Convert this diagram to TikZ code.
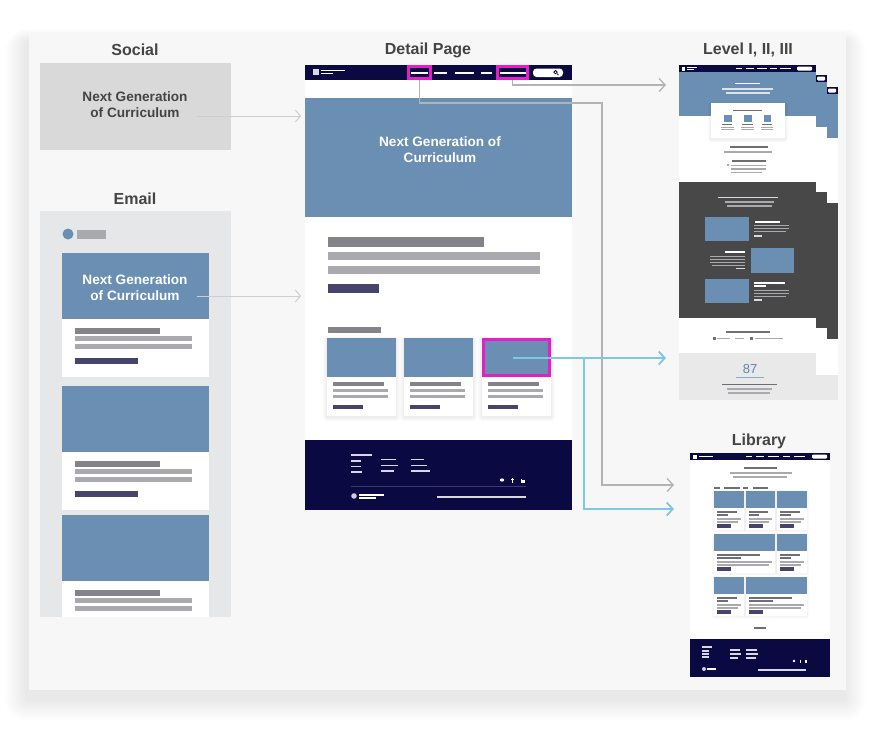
\documentclass[tikz,border=0pt]{standalone}
\usepackage{fontspec}
\setmainfont{Liberation Sans}
\usetikzlibrary{arrows.meta}
\definecolor{panelbg}{HTML}{F7F7F7}
\definecolor{ttl}{HTML}{444444}
\definecolor{socialbg}{HTML}{D9D9D9}
\definecolor{emailbg}{HTML}{E6E7E9}
\definecolor{hero}{HTML}{6A8FB3}
\definecolor{navy}{HTML}{0B0942}
\definecolor{mag}{HTML}{E61EC8}
\definecolor{bardk}{HTML}{838389}
\definecolor{barlt}{HTML}{AAAAAE}
\definecolor{btn}{HTML}{46446C}
\definecolor{darksec}{HTML}{484848}
\definecolor{lgsec}{HTML}{E9E9E9}
\definecolor{cyanln}{HTML}{7EC7E7}
\definecolor{grayln}{HTML}{B3B3B3}
\definecolor{softln}{HTML}{CBCFD2}
\definecolor{numblue}{HTML}{5B86B0}
\definecolor{tinydk}{HTML}{6E6E74}
\definecolor{tinylt}{HTML}{D8D8DE}
\definecolor{footdiv}{HTML}{3B3A70}
\newcommand\rct[5]{\fill[#1] ({#2},{#3}) rectangle ({#4},{#5});}
\newcommand\tinyln[4]{\fill[#1] ({#2},{#4-0.6}) rectangle ({#3},{#4+0.6});}
% soft shadow: x1,y1,x2,y2, layers, opacity per layer, y offset
\newcommand\softshadow[7]{%
  \foreach \k in {1,...,#5}{%
    \fill[black, opacity=#6, rounded corners=\k pt] ({#1-\k},{#2+#7-\k*0.6}) rectangle ({#3+\k},{#4+#7+\k});}}
\tikzset{
  ttlfont/.style={font=\bfseries\fontsize{16}{19}\selectfont, text=ttl, inner sep=0pt, anchor=base},
  herofont/.style={font=\bfseries\fontsize{13.6}{16}\selectfont, align=center, inner sep=0pt},
  softconn/.style={draw=softln, line width=1pt, -{Straight Barb[length=5pt,width=12pt]}},
  navconn/.style={draw=grayln, line width=1.3pt, -{Straight Barb[length=6pt,width=13pt]}},
  blueconn/.style={draw=cyanln, line width=1.8pt, -{Straight Barb[length=6pt,width=13pt]}},
  hibox/.style={draw=mag, line width=2.6pt, inner sep=0pt},
}
\newcommand\dcard[1]{%
  \softshadow{327+#1}{338}{396+#1}{416}{4}{0.015}{1}
  \rct{white}{327+#1}{338}{396+#1}{416}
  \rct{hero}{327+#1}{338}{396+#1}{377}
  \rct{bardk}{333+#1}{382}{384+#1}{385.5}
  \rct{barlt}{333+#1}{388.5}{388+#1}{391.5}
  \rct{barlt}{333+#1}{394.5}{388+#1}{397.5}
  \rct{btn}{333+#1}{405}{363+#1}{408.5}}
\newcommand\ecard[2]{%
  \rct{hero}{62}{#1}{209}{#2}
  \rct{white}{62}{#2}{209}{#2+58}
  \rct{bardk}{75}{#2+9}{160}{#2+14.5}
  \rct{barlt}{75}{#2+17}{192}{#2+21.5}
  \rct{barlt}{75}{#2+25}{192}{#2+29.5}}
\newcommand\libcard[4]{%
  \softshadow{#1}{#2}{#4}{#3+22}{2}{0.02}{0.5}
  \rct{white}{#1}{#2}{#4}{#3+22}
  \rct{hero}{#1}{#2}{#4}{#3}
  \tinyln{tinydk}{#1+3}{#1+(#4-#1)*0.75}{#3+4}
  \tinyln{tinydk}{#1+3}{#1+(#4-#1)*0.45}{#3+7}
  \rct{barlt}{#1+3}{#3+10}{#4-3}{#3+11.5}
  \rct{barlt}{#1+3}{#3+13}{#4-6}{#3+14.5}
  \rct{btn}{#1+3}{#3+16}{#1+17}{#3+20}}
\begin{document}
\begin{tikzpicture}[x=1pt,y=-1pt]
\useasboundingbox (0,0) rectangle (876,731);
\fill[white] (0,0) rectangle (876,731);
\softshadow{27}{33}{844}{690}{22}{0.0045}{9}
\rct{panelbg}{29}{33}{846}{690}

% ---------------- titles
\node[ttlfont] (tSocial) at (135,55) {Social};
\node[ttlfont] (tEmail) at (135,204) {Email};
\node[ttlfont] (tDetail) at (428,54) {Detail Page};
\node[ttlfont] (tLevel) at (748,54) {Level I, II, III};
\node[ttlfont] (tLibrary) at (759,445) {Library};

% ---------------- social
\rct{socialbg}{40}{63}{231}{150}
\node[herofont, text=ttl] (socText) at (135,105) {Next Generation\\of Curriculum};

% ---------------- email
\rct{emailbg}{40}{211}{231}{617}
\fill[hero] (68,234) circle (5.5);
\rct{barlt}{77}{230}{106}{238.5}
\ecard{253}{319}
\rct{btn}{75}{358}{138}{364}
\node[herofont, text=white] (emailText) at (135,288) {Next Generation\\of Curriculum};
\ecard{386}{452}
\rct{btn}{75}{490.5}{138}{496.5}
\rct{hero}{62}{515}{209}{581}
\rct{white}{62}{581}{209}{617}
\rct{bardk}{75}{590}{160}{596}
\rct{barlt}{75}{598}{192}{602.5}
\rct{barlt}{75}{606}{192}{610.5}

% ---------------- detail page
\rct{white}{305}{65}{572}{510}
\rct{navy}{305}{65}{572}{80}
\fill[white!85!navy] (313,68.5) rectangle (318.5,75);
\tinyln{white}{320.5}{345}{70.3}
\tinyln{white}{320.5}{333}{73.5}
\tinyln{white}{411}{428}{73}
\tinyln{white}{434}{447}{73}
\tinyln{white}{455}{474}{73}
\tinyln{white}{481}{492}{73}
\tinyln{white}{500}{526}{73}
\fill[white, rounded corners=3.5pt] (533,68.5) rectangle (563,77);
\draw[navy, line width=0.8pt] (555.5,72.2) circle (1.7);
\draw[navy, line width=0.8pt] (556.8,73.5) -- (558.6,75.2);
\node[hibox, minimum width=22.4pt, minimum height=12.4pt] (navA) at (419.5,72.5) {};
\node[hibox, minimum width=30.4pt, minimum height=12.4pt] (navB) at (512.5,72.5) {};
\rct{hero}{305}{98}{572}{217}
\node[herofont, text=white] (heroText) at (440,149.5) {Next Generation of\\Curriculum};
\rct{bardk}{328}{237}{484}{247}
\rct{barlt}{328}{252}{540}{260}
\rct{barlt}{328}{266}{540}{274}
\rct{btn}{328}{284}{379}{293}
\rct{bardk}{328}{327}{381}{332.5}
\dcard{0}
\dcard{77}
\dcard{155}
\node[hibox, minimum width=66.4pt, minimum height=36.4pt] (card3) at (516.5,357.5) {};
% detail footer
\rct{navy}{305}{440}{572}{510}
\tinyln{tinylt}{351}{372}{455}
\tinyln{tinylt}{351}{361}{461}
\tinyln{tinylt}{351}{361}{466.5}
\tinyln{tinylt}{351}{362}{472}
\tinyln{tinylt}{381}{396}{459.5}
\tinyln{tinylt}{381}{398}{465.5}
\tinyln{tinylt}{381}{394}{471}
\tinyln{tinylt}{411}{424}{459.5}
\tinyln{tinylt}{411}{427}{465.5}
\tinyln{tinylt}{411}{430}{471}
\fill[white] (502,480) ellipse (2.2 and 1.6);
\fill[white] (512,477.5) rectangle (513,482.5);
\fill[white] (511,479) rectangle (514,479.8);
\fill[white] (520.5,478.5) rectangle (521.3,482.5);
\fill[white] (522.3,479.5) rectangle (524.5,482.5);
\draw[footdiv, line width=0.6pt] (351,486) -- (526,486);
\fill[white!80!navy] (354,496) circle (2.8);
\tinyln{white}{359}{384}{495}
\tinyln{white}{359}{376}{498}
\tinyln{tinylt}{437}{526}{497}

% ---------------- level pages (back to front)
\rct{white}{690}{87}{838}{400}
\rct{navy}{690}{87}{838}{94}
\rct{hero}{690}{94}{838}{138}
\rct{darksec}{690}{203}{838}{339}
\rct{lgsec}{690}{375}{838}{400}
\fill[white, rounded corners=1pt] (828,88.5) rectangle (836,92.5);
\rct{white}{685}{75}{827}{375}
\rct{navy}{685}{75}{827}{82}
\rct{hero}{685}{82}{827}{127}
\rct{darksec}{685}{192}{827}{328}
\fill[white, rounded corners=1pt] (817,76.5) rectangle (825,80.5);
\rct{white}{679}{65}{816}{353}
\rct{navy}{679}{65}{816}{72}
\rct{hero}{679}{72}{816}{116}
\rct{darksec}{679}{182}{816}{318}
\rct{lgsec}{679}{353}{816}{400}
% nav
\fill[white] (682,67) rectangle (685,70.5);
\tinyln{white}{687}{697}{67.8}
\tinyln{white}{687}{694}{69.8}
\tinyln{white}{736}{742}{68.8}
\tinyln{white}{746}{754}{68.8}
\tinyln{white}{757}{767}{68.8}
\tinyln{white}{770}{777}{68.8}
\tinyln{white}{780}{791}{68.8}
\fill[white, rounded corners=1pt] (797,66.5) rectangle (812,70.5);
% hero
\tinyln{white}{735}{760}{83.5}
\rct{white!75!hero}{722}{88}{773}{90}
\rct{white!75!hero}{726}{92}{770}{94}
% white card with three squares
\softshadow{711}{103}{785}{138}{3}{0.018}{1}
\rct{white}{711}{103}{785}{138}
\tinyln{tinydk}{733}{762}{110.5}
\rct{hero}{723.5}{115}{731.5}{122}
\rct{hero}{744}{115}{751.5}{122}
\rct{hero}{763.5}{115}{771}{122}
\tinyln{tinydk}{722}{732}{124.5}
\tinyln{tinydk}{742}{753}{124.5}
\tinyln{tinydk}{762}{772}{124.5}
\rct{barlt}{721}{126.5}{734}{127.5}
\rct{barlt}{741}{126.5}{754}{127.5}
\rct{barlt}{761}{126.5}{773}{127.5}
\rct{barlt}{721}{129}{734}{130}
\rct{barlt}{741}{129}{754}{130}
\rct{barlt}{761}{129}{773}{130}
% white section text
\tinyln{tinydk}{730}{768}{147}
\rct{barlt}{724}{151}{772}{153}
\tinyln{tinydk}{732}{766}{161}
\fill[barlt] (727,164) rectangle (729,166);
\rct{barlt}{731}{164.5}{766}{166}
\rct{barlt}{731}{168}{766}{169.5}
\rct{barlt}{731}{171.5}{762}{173}
% dark section
\tinyln{tinylt}{718}{778}{197.5}
\rct{barlt}{725}{201}{774}{203}
\rct{barlt}{727}{205}{772}{207}
\rct{hero}{705}{217}{749}{241}
\tinyln{white}{755}{780}{222}
\rct{barlt}{754}{225}{789}{226.2}
\rct{barlt}{754}{228}{789}{229.2}
\rct{barlt}{754}{231}{786}{232.2}
\tinyln{tinylt}{754}{762}{236}
\rct{hero}{751}{248}{794}{273}
\tinyln{white}{725}{745}{252}
\rct{barlt}{710}{255.5}{745}{256.7}
\rct{barlt}{710}{258.5}{745}{259.7}
\rct{barlt}{710}{261.5}{745}{262.7}
\rct{barlt}{712}{264.5}{745}{265.7}
\tinyln{tinylt}{736}{745}{268.5}
\rct{hero}{705}{279}{749}{303}
\tinyln{white}{754}{785}{283}
\tinyln{white}{754}{766}{286}
\rct{barlt}{754}{289.5}{789}{290.7}
\rct{barlt}{754}{292.5}{789}{293.7}
\rct{barlt}{754}{295.5}{786}{296.7}
\tinyln{tinylt}{754}{762}{300}
% lower white section
\tinyln{tinydk}{726}{770}{332}
\fill[tinydk] (713,337) rectangle (716,339.5);
\tinyln{barlt}{717}{730}{338.3}
\tinyln{barlt}{735}{744}{338.3}
\fill[tinydk] (750,337) rectangle (753,339.5);
\tinyln{barlt}{755}{783}{338.3}
% gray "87" section
\node[font=\fontsize{13}{15}\selectfont, text=numblue, inner sep=0pt, anchor=base] (num87) at (750,373.5) {87};
\fill[numblue!70!white] (736,376.6) rectangle (764,377.4);
\tinyln{tinydk}{722}{777}{384.5}
\rct{barlt}{727}{388}{772}{390}
\rct{barlt}{728}{392}{770}{394}

% ---------------- library page
\rct{white}{690}{453}{830}{677}
\rct{navy}{690}{453}{830}{460}
\fill[white] (693,454.5) rectangle (697,458.5);
\tinyln{white}{699}{713}{456.5}
\tinyln{white}{746}{752}{456.5}
\tinyln{white}{756}{764}{456.5}
\tinyln{white}{768}{779}{456.5}
\tinyln{white}{783}{790}{456.5}
\tinyln{white}{794}{805}{456.5}
\fill[white, rounded corners=1pt] (812,454.5) rectangle (827,458.5);
\tinyln{tinydk}{744}{777}{468}
\rct{barlt}{730}{472}{792}{474}
\rct{barlt}{733}{476}{787}{478}
\tinyln{tinydk}{714}{720}{488}
\tinyln{tinydk}{724}{740}{488}
\tinyln{tinydk}{743}{748}{488}
\tinyln{tinydk}{753}{768}{488}
\libcard{714}{491}{508}{744}
\libcard{746}{491}{508}{775}
\libcard{777}{491}{508}{807}
\libcard{714}{534}{551}{775}
\libcard{777}{534}{551}{807}
\libcard{714}{577}{594}{744}
\libcard{746}{577}{594}{807}
\tinyln{tinydk}{754}{766}{628}
\rct{navy}{690}{639}{830}{677}
\tinyln{tinylt}{702}{712}{647}
\tinyln{tinylt}{702}{709}{651}
\tinyln{tinylt}{702}{709}{654}
\tinyln{tinylt}{702}{709}{657}
\tinyln{tinylt}{730}{740}{650}
\tinyln{tinylt}{730}{741}{654}
\tinyln{tinylt}{730}{738}{658}
\tinyln{tinylt}{746}{757}{650}
\tinyln{tinylt}{746}{758}{654}
\tinyln{tinylt}{746}{756}{658}
\fill[white] (794,661) circle (1.3);
\fill[white] (799.5,659.5) rectangle (800.3,662.5);
\fill[white] (805,659.5) rectangle (806.5,662.5);
\fill[white!80!navy] (704,669) circle (2);
\tinyln{white}{707}{716}{669}
\tinyln{tinylt}{758}{806}{670}

% ---------------- connectors
\coordinate (socOut) at (197,116);
\coordinate (detIn1) at (301,116);
\coordinate (emOut) at (197,296);
\coordinate (detIn2) at (301,296);
\coordinate (lvlIn1) at (666,85);
\coordinate (lvlIn2) at (666,358);
\coordinate (libIn1) at (674,485);
\coordinate (libIn2) at (674,509);
\coordinate (jA) at (602,103);
\coordinate (jB) at (584,358);
\coordinate (c3dot) at (513,358);
\draw[softconn] (socOut) -- (detIn1);
\draw[softconn] (emOut) -- (detIn2);
\draw[navconn] (navB.south) |- (lvlIn1);
\draw[navconn] (navA.south) |- (jA) |- (libIn1);
\draw[blueconn] (c3dot) -- (lvlIn2);
\draw[blueconn] (jB) |- (libIn2);
\end{tikzpicture}
\end{document}
